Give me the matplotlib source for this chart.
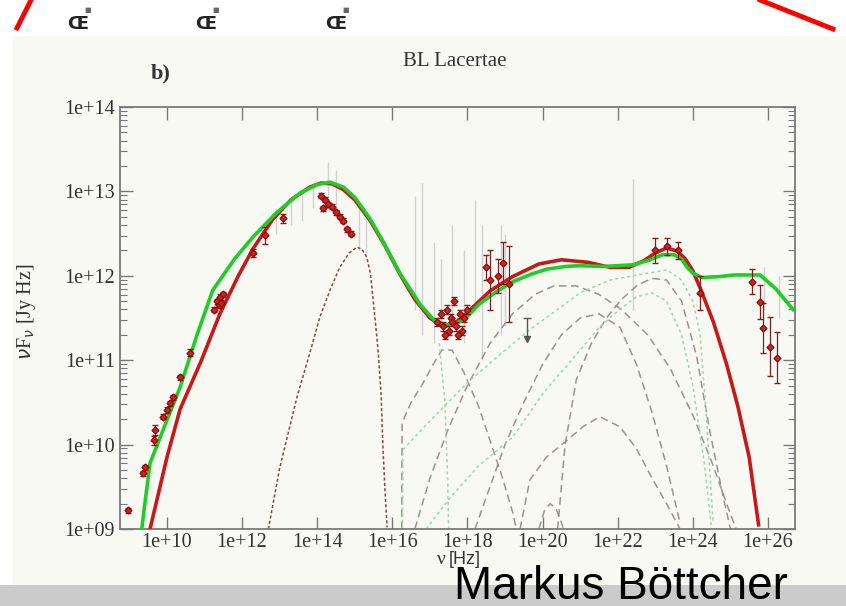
import numpy as np
import matplotlib.pyplot as plt
from matplotlib.patches import Rectangle
from matplotlib.lines import Line2D
from matplotlib.ticker import FixedLocator, FuncFormatter, NullLocator

# all values in log10(nu / Hz) and log10(nuF_nu / Jy Hz)
red_model_x = [9.55, 10.0, 10.35, 10.9, 11.41, 11.9, 12.29, 12.8, 13.3, 13.8, 14.1, 14.4, 14.7, 15.0,
               15.4, 15.8, 16.2, 16.6, 17.0, 17.3, 17.5, 17.8, 18.15, 18.6, 19.2, 19.9, 20.5, 21.2,
               21.8, 22.3, 22.7, 23.0, 23.3, 23.6, 23.8, 24.0, 24.2, 24.55, 24.9, 25.2, 25.5, 25.75]
red_model_y = [9.0, 9.85, 10.42, 10.98, 11.55, 12.0, 12.32, 12.66, 12.9, 13.05, 13.1, 13.09, 13.02, 12.9,
               12.66, 12.36, 12.02, 11.72, 11.5, 11.41, 11.41, 11.48, 11.63, 11.82, 11.99, 12.14, 12.19, 12.16,
               12.1, 12.1, 12.18, 12.27, 12.33, 12.29, 12.2, 12.06, 11.85, 11.45, 10.95, 10.45, 9.85, 9.05]

green_model_x = [9.33, 9.4, 9.55, 10.0, 10.35, 10.8, 11.22, 11.8, 12.29, 12.9, 13.54, 14.0, 14.34, 14.7,
                 15.0, 15.4, 15.8, 16.2, 16.74, 17.1, 17.4, 17.7, 18.0, 18.33, 18.8, 19.21, 19.7, 20.12,
                 20.6, 21.0, 21.6, 22.4, 22.8, 23.2, 23.5, 23.7, 23.85, 24.0, 24.24, 24.7, 25.1, 25.44,
                 25.79, 26.2, 26.67]
green_model_y = [9.0, 9.26, 9.78, 10.29, 10.68, 11.3, 11.83, 12.2, 12.46, 12.74, 12.98, 13.08, 13.11, 13.05,
                 12.93, 12.68, 12.37, 12.03, 11.66, 11.48, 11.42, 11.43, 11.52, 11.67, 11.82, 11.93, 12.02, 12.08,
                 12.11, 12.12, 12.11, 12.13, 12.18, 12.25, 12.25, 12.2, 12.1, 12.03, 11.98, 11.99, 12.01, 12.01,
                 12.01, 11.85, 11.6]

sync2_x = [12.7, 13.0, 13.46, 13.8, 14.07, 14.35, 14.6, 14.85, 15.06, 15.2, 15.32, 15.42, 15.49, 15.56,
           15.62, 15.7, 15.75, 15.8, 15.86]
sync2_y = [9.0, 9.72, 10.56, 11.08, 11.51, 11.84, 12.1, 12.27, 12.34, 12.31, 12.22, 12.02, 11.71, 11.4,
           11.12, 10.6, 9.97, 9.5, 9.02]

ssc2_x = [16.25, 16.26, 16.5, 16.82, 17.1, 17.32, 17.59, 17.9, 18.3, 18.6, 18.9, 19.21, 19.3]
ssc2_y = [9.0, 10.26, 10.5, 10.73, 10.96, 11.12, 11.12, 10.86, 10.45, 10.05, 9.65, 9.19, 9.0]

ssc1_x = [16.6, 17.0, 17.5, 18.0, 18.6, 19.2, 19.8, 20.3, 20.9, 21.5, 22.1, 22.8, 23.4, 24.0, 24.5,
          24.9, 25.15]
ssc1_y = [9.0, 9.6, 10.2, 10.7, 11.2, 11.55, 11.78, 11.88, 11.88, 11.78, 11.6, 11.3, 10.9, 10.35, 9.8,
          9.3, 9.0]

ec1_x = [20.4, 20.6, 20.9, 21.3, 21.7, 22.1, 22.5, 22.9, 23.3, 23.7, 24.1, 24.46, 24.8, 25.0]
ec1_y = [9.0, 10.0, 10.77, 11.2, 11.5, 11.72, 11.88, 11.97, 11.95, 11.7, 11.05, 10.14, 9.4, 9.0]

ec2_x = [18.2, 18.6, 19.0, 19.5, 20.0, 20.5, 21.0, 21.5, 22.06, 22.5, 22.9, 23.3, 23.66]
ec2_y = [9.0, 9.5, 10.0, 10.5, 10.95, 11.3, 11.5, 11.55, 11.39, 10.95, 10.4, 9.75, 9.07]

hump_x = [19.4, 19.66, 20.1, 20.65, 21.1, 21.53, 22.06, 22.5, 22.94, 23.3, 23.66]
hump_y = [9.0, 9.58, 9.85, 10.05, 10.22, 10.33, 10.21, 9.95, 9.58, 9.3, 9.0]

small_hump_x = [19.9, 20.05, 20.2, 20.35, 20.5, 20.55]
small_hump_y = [9.0, 9.22, 9.3, 9.25, 9.08, 9.0]

green_ec1_x = [16.27, 16.28, 17.0, 17.99, 18.9, 19.74, 20.4, 21.0, 21.8, 22.78, 23.31, 23.7, 24.0, 24.19,
               24.35, 24.54]
green_ec1_y = [9.0, 9.94, 10.28, 10.73, 11.08, 11.39, 11.6, 11.8, 11.95, 12.03, 12.07, 11.95, 11.7, 11.32,
               10.4, 9.07]

green_ec2_x = [16.9, 17.5, 18.3, 19.21, 20.0, 21.0, 21.53, 22.1, 22.5, 22.9, 23.3, 23.7, 24.0, 24.3, 24.5]
green_ec2_y = [9.0, 9.35, 9.75, 10.09, 10.6, 11.12, 11.4, 11.62, 11.75, 11.8, 11.7, 11.3, 10.7, 9.8, 9.0]

green_drop_x = [17.25, 17.4, 17.47, 17.5]
green_drop_y = [11.2, 10.5, 9.6, 9.0]

# red data points (log nu, log flux, error)
pts_x = [8.96, 9.36, 9.41, 9.65, 9.68, 9.89, 10.0, 10.08, 10.16, 10.35, 10.61, 11.25, 11.32, 11.38,
         11.41, 11.45, 11.5, 12.29, 12.6, 13.1,
         14.1, 14.2, 14.3, 14.15, 14.4, 14.5, 14.6, 14.7, 14.8, 14.9,
         17.2, 17.3, 17.35, 17.45, 17.5, 17.55, 17.6, 17.65, 17.7, 17.8, 17.85, 17.9, 18.0, 17.4, 17.75,
         18.5, 18.6, 18.8, 18.95, 19.1,
         23.0, 23.3, 23.6, 24.2,
         25.57, 25.79, 25.87, 26.05, 26.24]
pts_y = [9.22, 9.66, 9.73, 10.05, 10.17, 10.33, 10.41, 10.49, 10.56, 10.8, 11.09, 11.6, 11.7, 11.65,
         11.75, 11.68, 11.78, 12.27, 12.48, 12.68,
         12.95, 12.9, 12.85, 12.8, 12.82, 12.75, 12.7, 12.65, 12.55, 12.5,
         11.45, 11.55, 11.4, 11.6, 11.35, 11.5, 11.45, 11.7, 11.4, 11.55, 11.35, 11.5, 11.6, 11.3, 11.3,
         12.1, 11.95, 12.0, 12.15, 11.9,
         12.3, 12.35, 12.3, 11.8,
         11.93, 11.69, 11.38, 11.16, 11.03]
pts_err = [0.03, 0.03, 0.03, 0.05, 0.06, 0.03, 0.03, 0.03, 0.03, 0.03, 0.04, 0.03, 0.03, 0.03,
           0.03, 0.03, 0.03, 0.05, 0.1, 0.05,
           0.03, 0.03, 0.03, 0.03, 0.03, 0.03, 0.03, 0.03, 0.03, 0.03,
           0.05, 0.05, 0.05, 0.05, 0.05, 0.05, 0.05, 0.05, 0.05, 0.05, 0.05, 0.05, 0.05, 0.05, 0.05,
           0.15, 0.35, 0.2, 0.25, 0.45,
           0.15, 0.1, 0.1, 0.2,
           0.15, 0.2, 0.3, 0.35, 0.3]

# upper limit
ul_x = [19.58]
ul_y = [11.5]

# light grey archival measurements (log nu, low, high)
arch_x = [12.9, 13.3, 13.6, 13.9, 14.3, 14.5, 15.1, 15.3, 16.6, 16.8, 17.1, 17.3, 17.6, 17.9, 18.2,
          18.4, 18.9, 19.0, 22.4, 25.9, 26.3]
arch_lo = [12.5, 12.6, 12.65, 12.8, 12.9, 12.7, 12.3, 12.25, 11.6, 11.3, 11.2, 11.4, 11.5, 11.2, 11.6,
           11.0, 11.3, 11.4, 11.6, 11.6, 11.5]
arch_hi = [12.8, 12.9, 13.0, 13.1, 13.35, 13.25, 12.8, 12.7, 12.95, 13.1, 12.4, 12.2, 12.6, 12.3, 12.9,
           12.6, 12.6, 12.5, 13.15, 12.1, 12.0]

x_ticks = [10, 12, 14, 16, 18, 20, 22, 24, 26]
y_ticks = [9, 10, 11, 12, 13, 14]

bg = "#f9f9f4"
fig = plt.figure(figsize=(8.46, 6.06), dpi=100, facecolor="white")

# slide decorations
fig.patches.append(Rectangle((13 / 846, 1 - 585 / 606), 833 / 846, 549 / 606, transform=fig.transFigure,
                             facecolor=bg, edgecolor="none", zorder=-2))
fig.patches.append(Rectangle((0, 0), 1, 21 / 606, transform=fig.transFigure,
                             facecolor="#cbcbcb", edgecolor="none", zorder=-2))
fig.lines.append(Line2D([17 / 846, 31 / 846], [1 - 28 / 606, 1.0], transform=fig.transFigure,
                        color="red", lw=3.5))
fig.lines.append(Line2D([760 / 846, 833 / 846], [1.0, 1 - 29 / 606], transform=fig.transFigure,
                        color="red", lw=3.5))
for xi in [78, 206, 336]:
    fig.text(xi / 846, 1 - 24 / 606, "Œ", fontsize=13, fontweight="bold", ha="center", va="center",
             color="#222222", family="DejaVu Sans")
    fig.text((xi + 10) / 846, 1 - 10 / 606, "■", fontsize=5, ha="center", va="center", color="#666666")

ax = fig.add_axes([120 / 846, 1 - 529 / 606, 675 / 846, 422 / 606])
ax.set_zorder(1)
ax.set_facecolor(bg)
ax.set_xscale("log")
ax.set_yscale("log")
ax.set_xlim(10 ** 8.75, 10 ** 26.72)
ax.set_ylim(1e9, 1e14)

p = lambda a: 10 ** np.asarray(a, dtype=float)

# archival data
ax.vlines(p(arch_x), p(arch_lo), p(arch_hi), color="#d0d0d0", lw=1.0, zorder=1)

# model components
dash_col = "#8a8080"
ax.plot(p(sync2_x), p(sync2_y), color="#8b4040", lw=1.1, ls=(0, (2, 1.5)), zorder=2)
for cx, cy in [(ssc2_x, ssc2_y), (ssc1_x, ssc1_y), (ec1_x, ec1_y), (ec2_x, ec2_y),
               (hump_x, hump_y), (small_hump_x, small_hump_y)]:
    ax.plot(p(cx), p(cy), color=dash_col, lw=1.1, ls=(0, (5, 3)), alpha=0.85, zorder=2)
for cx, cy in [(green_ec1_x, green_ec1_y), (green_ec2_x, green_ec2_y), (green_drop_x, green_drop_y)]:
    ax.plot(p(cx), p(cy), color="#9fd4b0", lw=1.1, ls=(0, (2, 2)), zorder=2)

# total models
ax.plot(p(red_model_x), p(red_model_y), color="#c41a1a", lw=2.6, zorder=4)
ax.plot(p(green_model_x), p(green_model_y), color="#1fcc2a", lw=2.6, zorder=5)

# data
pe = np.asarray(pts_err)
py = np.asarray(pts_y)
ax.errorbar(p(pts_x), p(py), yerr=[p(py) - p(py - pe), p(py + pe) - p(py)], fmt="D", ms=3.5,
            color="#d42222", mec="#8b1010", ecolor="#7a2020", elinewidth=0.9, capsize=2, zorder=6)
ax.vlines(p(ul_x), p(ul_y) * 0.56, p(ul_y), color="#555555", lw=1.0, zorder=6)
ax.plot(p(ul_x), p(ul_y), marker="_", ms=6, color="#555555", zorder=6)
ax.plot(p(ul_x), p(ul_y) * 0.56, marker="v", ms=5, color="#555555", zorder=6)

# axes styling
fmt = FuncFormatter(lambda v, _: "1e+%02d" % round(np.log10(v)))
ax.xaxis.set_major_locator(FixedLocator(p(x_ticks)))
ax.xaxis.set_minor_locator(NullLocator())
ax.yaxis.set_major_locator(FixedLocator(p(y_ticks)))
ax.xaxis.set_major_formatter(fmt)
ax.yaxis.set_major_formatter(fmt)
ax.tick_params(which="both", direction="in", top=True, right=True, colors="#777777",
               labelcolor="#333333", labelsize=14.5)
ax.tick_params(which="major", length=9, width=1.0)
ax.tick_params(which="minor", length=5, width=0.8)
ax.tick_params(axis="x", pad=3)
for lab in ax.get_xticklabels() + ax.get_yticklabels():
    lab.set_family("Liberation Serif")
for s in ax.spines.values():
    s.set_color("#7a7a7a")
    s.set_linewidth(1.3)

fig.text(455 / 846, 1 - 62 / 606, "BL Lacertae", fontsize=15, family="Liberation Serif",
         color="#333333", ha="center", va="center")
fig.text(161 / 846, 1 - 73 / 606, "b)", fontsize=16, family="Liberation Serif", fontweight="bold",
         color="#333333", ha="center", va="center")
fig.text(27 / 846, 1 - 312 / 606, r"$\nu$F$_\nu$ [Jy Hz]", fontsize=14.5, family="Liberation Serif",
         color="#333333", rotation=90, ha="center", va="center")
fig.text(441 / 846, 1 - 560 / 606, "ν", fontsize=14, family="Liberation Serif", color="#333333",
         ha="center", va="center")
fig.text(465 / 846, 1 - 559 / 606, "[Hz]", fontsize=13, family="Liberation Sans", color="#333333",
         ha="center", va="center")
fig.text(621 / 846, 1 - 599 / 606, "Markus Böttcher", fontsize=33, family="Liberation Sans",
         color="black", ha="center", va="baseline")

fig.savefig("out.png", dpi=100, facecolor="white")
